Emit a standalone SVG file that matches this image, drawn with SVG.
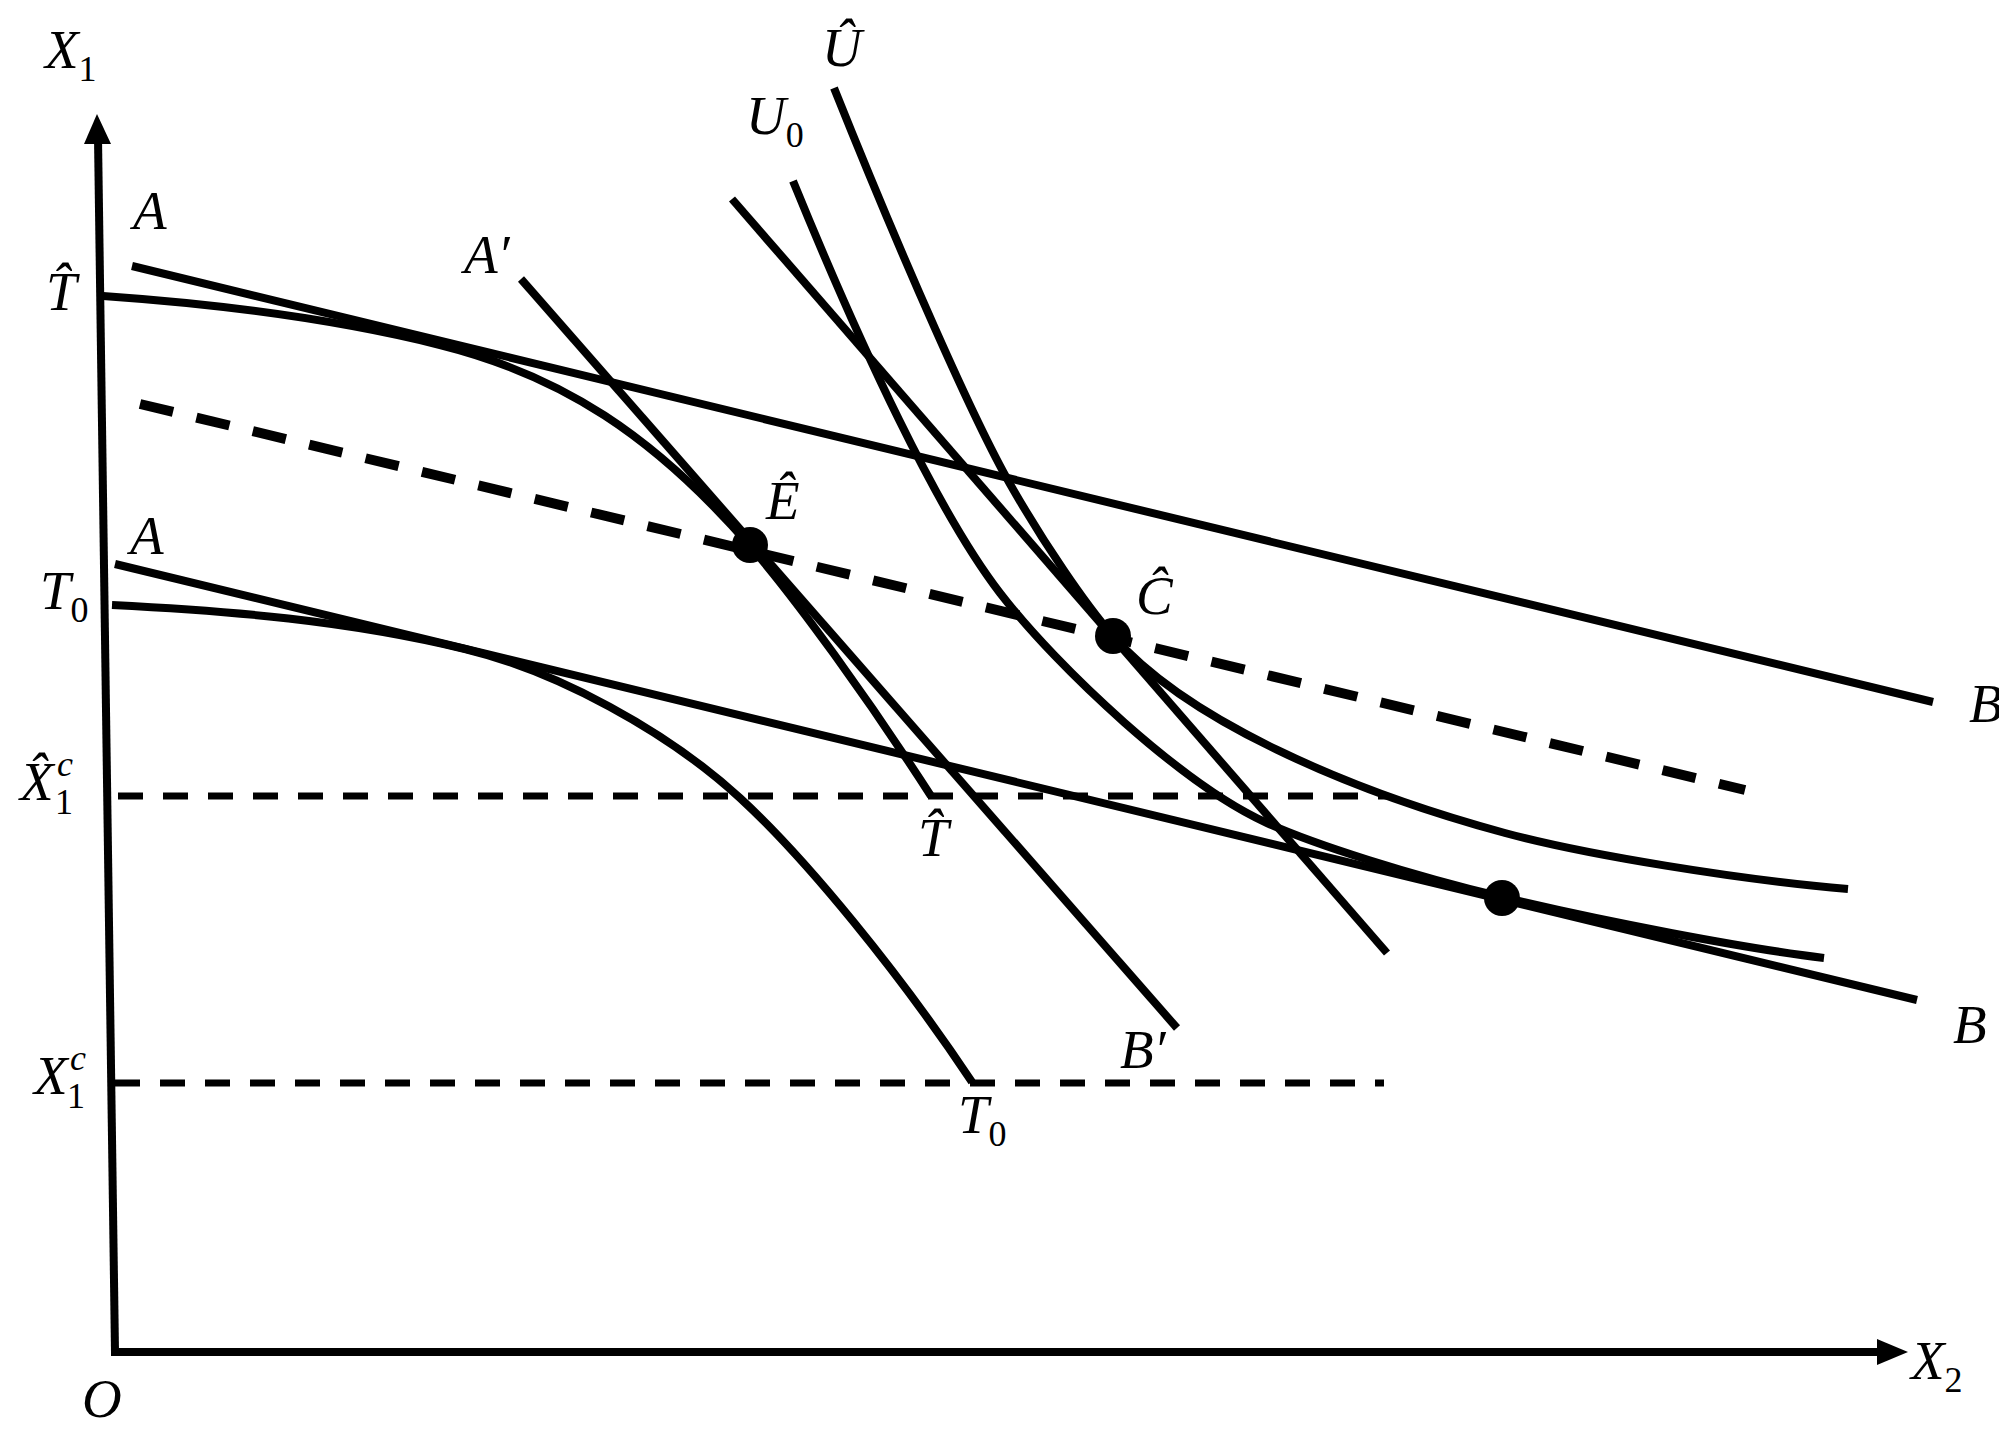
<svg xmlns="http://www.w3.org/2000/svg" width="1999" height="1448" viewBox="0 0 1999 1448">
<style>
.ln{fill:none;stroke:#000;stroke-width:8}
.dsh{fill:none;stroke:#000;stroke-width:10;stroke-dasharray:34 24}
.hd{fill:none;stroke:#000;stroke-width:7;stroke-dasharray:25 20}
.dot{fill:#000}
.arr{fill:#000}
.lbl{font-family:"Liberation Serif","Times New Roman",serif;font-style:italic;font-size:55px;fill:#000}
.sub{font-family:"Liberation Serif","Times New Roman",serif;font-style:normal;font-size:36px;fill:#000}
.sup{font-family:"Liberation Serif","Times New Roman",serif;font-style:italic;font-size:36px;fill:#000}
</style>
<rect width="1999" height="1448" fill="#fff"/>
<g id="axes">
<path class="ln" d="M115,1352 L98,138"/>
<polygon class="arr" points="97,114 111,144 84,144"/>
<path class="ln" d="M111,1352 L1882,1352"/>
<polygon class="arr" points="1908,1352 1877,1339 1877,1365"/>
</g>
<g id="connectors">
<path id="budget-hat" class="ln" d="M132,266 L1933,702"/>
<path id="budget-0" class="ln" d="M115,564 L1917,1000"/>
<path id="trade-line" class="dsh" d="M140,404 L1745,790"/>
<path id="price-AB-prime" class="ln" d="M521,279 L1177,1028"/>
<path id="price-C" class="ln" d="M732,199 L1387,953"/>
<path id="x1c-hat" class="hd" d="M118,796 L1388,796"/>
<path id="x1c" class="hd" d="M115,1083 L1384,1083"/>
<path id="ppf-hat" class="ln" d="M103,296 C215,303.8 328,317 440,345 C561,375.2 654,435.5 750,546 C795.8,598.7 868.2,698.7 931,796"/>
<path id="ppf-0" class="ln" d="M112,605 C230,610.9 347,620.4 465,649 C557,671.3 667,730.9 740,798 C806.2,858.9 899,972.5 972,1082"/>
<path id="indiff-0" class="ln" d="M793,181 C861.4,348.5 938,512.4 1000,593 C1058.1,668.6 1184.3,785.8 1267,823 C1316.4,845.2 1410.4,874.8 1502,897 C1602.8,921.4 1747.7,948.8 1824,958"/>
<path id="indiff-hat" class="ln" d="M834,88 C904.4,264 974.8,422.4 1010,484 C1043.5,542.7 1084.7,603.5 1113,636 C1185.5,719.3 1346.4,790.1 1505,833 C1584.8,854.6 1739.1,879.8 1848,889"/>
</g>
<g id="point-E"><circle class="dot" cx="750" cy="545" r="18"/></g>
<g id="point-C"><circle class="dot" cx="1113" cy="636" r="18"/></g>
<g id="point-D"><circle class="dot" cx="1502" cy="898" r="18"/></g>
<g id="labels">
<text class="lbl" x="45" y="68">X<tspan class="sub" dy="13">1</tspan></text>
<text class="lbl" x="822" y="66">Û</text>
<text class="lbl" x="746" y="134">U<tspan class="sub" dy="13">0</tspan></text>
<text class="lbl" x="133" y="229">A</text>
<text class="lbl" x="464" y="273">A′</text>
<text class="lbl" x="46" y="310">T̂</text>
<text class="lbl" x="766" y="519">Ê</text>
<text class="lbl" x="130" y="554">A</text>
<text class="lbl" x="40" y="609">T<tspan class="sub" dy="13">0</tspan></text>
<text class="lbl" x="1136" y="614">Ĉ</text>
<text class="lbl" x="1969" y="722">B</text>
<text class="lbl" x="20" y="800">X̂</text>
<text class="sub" x="55" y="814">1</text>
<text class="sup" x="57" y="776">c</text>
<text class="lbl" x="34" y="1094">X</text>
<text class="sub" x="67" y="1108">1</text>
<text class="sup" x="70" y="1070">c</text>
<text class="lbl" x="918" y="856">T̂</text>
<text class="lbl" x="1120" y="1068">B′</text>
<text class="lbl" x="958" y="1133">T<tspan class="sub" dy="13">0</tspan></text>
<text class="lbl" x="1953" y="1043">B</text>
<text class="lbl" x="82" y="1417">O</text>
<text class="lbl" x="1911" y="1379">X<tspan class="sub" dy="13">2</tspan></text>
</g>
</svg>
